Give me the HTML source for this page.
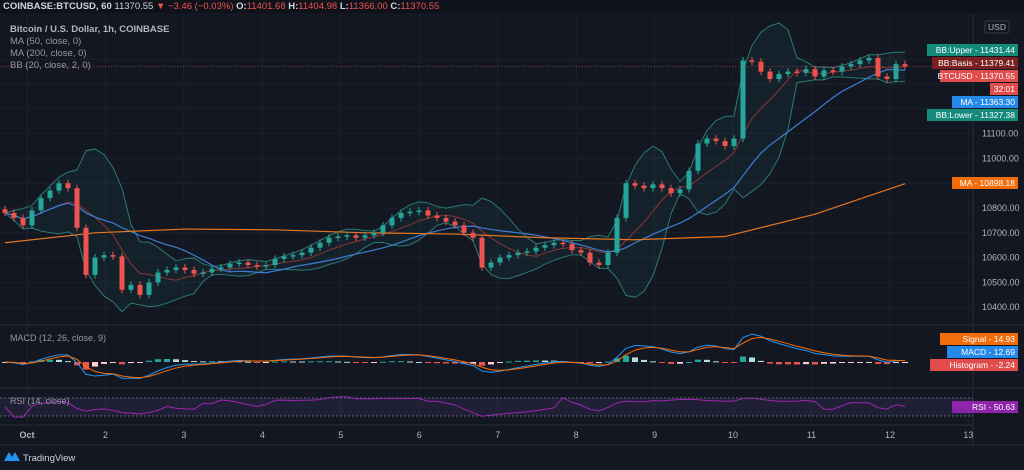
<!DOCTYPE html>
<html><head><meta charset="utf-8">
<style>
html,body{margin:0;padding:0;background:#131722;width:1024px;height:470px;overflow:hidden;font-family:"Liberation Sans",sans-serif}
svg{display:block}
</style></head>
<body>
<svg id="chart" width="1024" height="470" xmlns="http://www.w3.org/2000/svg">
<rect x="0" y="0" width="1024" height="470" fill="#131722"/>
<rect x="0" y="0" width="1024" height="13" fill="#0f121a"/>
<g id="grid"></g>
<g id="main"></g>
<g id="macd"></g>
<g id="rsi"></g>
<g id="axes"></g>
<text x="3" y="9" font-size="9.5" fill="#d1d4dc"><tspan font-weight="bold">COINBASE:BTCUSD, 60</tspan> 11370.55 <tspan fill="#ef5350">▼ −3.46 (−0.03%)</tspan> <tspan font-weight="bold">O:</tspan><tspan fill="#ef5350">11401.68</tspan> <tspan font-weight="bold">H:</tspan><tspan fill="#ef5350">11404.98</tspan> <tspan font-weight="bold">L:</tspan><tspan fill="#ef5350">11366.00</tspan> <tspan font-weight="bold">C:</tspan><tspan fill="#ef5350">11370.55</tspan></text>
<text x="10" y="32" font-size="9.5" font-weight="bold" fill="#b2b5be">Bitcoin / U.S. Dollar, 1h, COINBASE</text>
<text x="10" y="44" font-size="9.5" fill="#9598a1">MA (50, close, 0)</text>
<text x="10" y="56" font-size="9.5" fill="#9598a1">MA (200, close, 0)</text>
<text x="10" y="68" font-size="9.5" fill="#9598a1">BB (20, close, 2, 0)</text>
<text x="10" y="341" font-size="9" fill="#9598a1">MACD (12, 26, close, 9)</text>
<text x="10" y="404" font-size="9" fill="#9598a1">RSI (14, close)</text>
<g>
<path d="M4 461 L9 452 L12 457 L15 452 L20 461 Z" fill="#2196f3"/>
<text x="23" y="461" font-size="9.5" fill="#d1d4dc">TradingView</text>
</g>
</svg>
<script>
const closes=[10780,10760,10730,10790,10840,10870,10900,10880,10720,10530,10600,10610,10605,10470,10490,10450,10500,10540,10550,10560,10550,10535,10540,10555,10560,10575,10580,10570,10565,10570,10595,10605,10610,10620,10640,10660,10680,10685,10690,10680,10690,10700,10730,10760,10780,10785,10790,10770,10760,10745,10730,10700,10680,10560,10580,10600,10610,10620,10625,10640,10650,10660,10655,10630,10620,10580,10570,10620,10760,10900,10890,10880,10895,10880,10860,10875,10950,11060,11080,11070,11050,11080,11395,11390,11350,11320,11340,11350,11345,11360,11330,11355,11350,11370,11380,11395,11405,11330,11320,11380,11371];
const ma200Idx=[0,10,20,30,40,50,60,70,80,90,100];
const ma200Vals=[10660,10700,10715,10712,10700,10695,10680,10672,10685,10775,10898];
const priceTicks=[10400,10500,10600,10700,10800,11000,11100];
const dayLabels=["Oct","2","3","4","5","6","7","8","9","10","11","12","13"];

const NS="http://www.w3.org/2000/svg";
function el(tag,attrs,parent){const e=document.createElementNS(NS,tag);for(const k in attrs)e.setAttribute(k,attrs[k]);(parent||document.getElementById('chart')).appendChild(e);return e;}
const xS=i=>5+i*9;
const yP=p=>208-(p-10800)*0.248;
const dayX=d=>27+d*78.45;
const main=document.getElementById('main'),grid=document.getElementById('grid'),axes=document.getElementById('axes');

dayLabels.forEach((l,d)=>{const g=el('line',{x1:dayX(d),x2:dayX(d),y1:14,y2:425,stroke:'#1c202b','stroke-width':1},grid);});
priceTicks.concat([10900,11200,11300,11400]).forEach(p=>{const g=el('line',{x1:0,x2:972,y1:yP(p),y2:yP(p),stroke:'#1c202b'},grid);});
[325,388].forEach(y=>{const s=el('line',{x1:0,x2:1024,y1:y,y2:y,stroke:'#2a2e39'},grid);});
const va=el('line',{x1:973,x2:973,y1:14,y2:445,stroke:'#2a2e39'},grid);
const ha=el('line',{x1:0,x2:1024,y1:445,y2:445,stroke:'#2a2e39'},grid);
const ha2=el('line',{x1:0,x2:973,y1:425,y2:425,stroke:'#2a2e39'},grid);

function sma(a,n){return a.map((v,i)=>{const s=a.slice(Math.max(0,i-n+1),i+1);return s.reduce((x,y)=>x+y,0)/s.length;});}
function sd(a,n){return a.map((v,i)=>{const s=a.slice(Math.max(0,i-n+1),i+1);const m=s.reduce((x,y)=>x+y,0)/s.length;return Math.sqrt(s.reduce((x,y)=>x+(y-m)*(y-m),0)/s.length);});}
const basis=sma(closes,7),dev=sd(closes,7),ma50=sma(closes,17);
const up=basis.map((b,i)=>b+2*dev[i]),lo=basis.map((b,i)=>b-2*dev[i]);
const pts=(arr,f)=>arr.map((v,i)=>xS(i)+','+f(v)).join(' ');
const fill=el('polygon',{points:pts(up,yP)+' '+lo.map((v,i)=>xS(i)+','+yP(v)).reverse().join(' '),fill:'rgba(38,166,154,0.07)'},main);

const bu=el('polyline',{points:pts(up,yP),fill:'none',stroke:'#2b7a72','stroke-width':1},main);
const bl=el('polyline',{points:pts(lo,yP),fill:'none',stroke:'#2b7a72','stroke-width':1},main);
const bb=el('polyline',{points:pts(basis,yP),fill:'none',stroke:'#8e3535','stroke-width':1},main);
const m50=el('polyline',{points:pts(ma50,yP),fill:'none',stroke:'#3d7ed6','stroke-width':1.2},main);
const m200=el('polyline',{points:ma200Idx.map((ix,k)=>xS(ix)+','+yP(ma200Vals[k])).join(' '),fill:'none',stroke:'#e8761e','stroke-width':1.2},main);

closes.forEach((c,i)=>{const o=i?closes[i-1]:c+15;const upC=c>=o;const col=upC?'#26a69a':'#ef5350';
 const hi=Math.max(o,c)+14,lw=Math.min(o,c)-14;
 const w=el('line',{x1:xS(i),x2:xS(i),y1:yP(hi),y2:yP(lw),stroke:col,'stroke-width':1},main);
 const top=yP(Math.max(o,c)),h=Math.max(1.5,yP(Math.min(o,c))-top);
 const b=el('rect',{x:xS(i)-2.5,y:top,width:5,height:h,fill:col},main);});
const last=closes[closes.length-1];
const pl=el('line',{x1:0,x2:973,y1:yP(last),y2:yP(last),stroke:'#ef5350','stroke-width':0.7,'stroke-dasharray':'1,2',opacity:0.7},main);

function ema(a,n){const k=2/(n+1);let r=[];a.forEach((v,i)=>r.push(i?v*k+r[i-1]*(1-k):v));return r;}
const e1=ema(closes,4),e2=ema(closes,9);const macd=e1.map((v,i)=>v-e2[i]);const sig=ema(macd,3);const hist=macd.map((v,i)=>v-sig[i]);
const mx=Math.max(...macd.map(Math.abs),...sig.map(Math.abs));const yM=v=>362-v/mx*28;
const mg=document.getElementById('macd');
hist.forEach((h,i)=>{const col=h>=0?(i&&h>hist[i-1]?'#26a69a':'#b2dfdb'):(i&&h<hist[i-1]?'#ef5350':'#ffcdd2');
 const r=el('rect',{x:xS(i)-3,y:Math.min(362,yM(h)),width:6,height:Math.max(1,Math.abs(yM(h)-362)),fill:col},mg);});
const ml=el('polyline',{points:pts(macd,yM),fill:'none',stroke:'#2196f3','stroke-width':1},mg);
const sl=el('polyline',{points:pts(sig,yM),fill:'none',stroke:'#ff6d00','stroke-width':1},mg);

const rsi=closes.map((c,i)=>{let g=0,l=0;for(let j=Math.max(1,i-8);j<=i;j++){const d=closes[j]-closes[j-1];if(d>0)g+=d;else l-=d;}if(g+l===0)return 50;return 50+(100*g/(g+l)-50)*0.45;});
const yR=r=>398+(70-r)*18/40;const rg=document.getElementById('rsi');
const rb=el('rect',{x:0,y:398,width:973,height:18,fill:'rgba(126,87,194,0.12)'},rg);
[398,416].forEach(y=>{const d=el('line',{x1:0,x2:973,y1:y,y2:y,stroke:'#787b86','stroke-dasharray':'2,2','stroke-width':0.8},rg);});
const rl=el('polyline',{points:pts(rsi,yR),fill:'none',stroke:'#9c27b0','stroke-width':1},rg);

priceTicks.forEach(p=>{const t=el('text',{x:982,y:yP(p)+3,'font-size':9,fill:'#b2b5be'},axes);t.textContent=p.toFixed(2);});
dayLabels.forEach((l,d)=>{const t=el('text',{x:dayX(d),y:438,'font-size':9,fill:'#b2b5be','text-anchor':'middle','font-weight':d?'normal':'bold'},axes);t.textContent=l;});
const usd=el('rect',{x:985,y:21,width:24,height:12,fill:'#131722',stroke:'#363a45',rx:2},axes);
const ut=el('text',{x:997,y:30,'font-size':8.5,fill:'#b2b5be','text-anchor':'middle'},axes);ut.textContent='USD';
const tags=[['BB:Upper - 11431.44',927,44,'#138a7a'],['BB:Basis - 11379.41',932,57,'#7b2020'],['BTCUSD - 11370.55',940,70,'#e04b4b'],['32:01',990,83,'#e04b4b'],['MA - 11363.30',952,96,'#2489e8'],['BB:Lower - 11327.38',927,109,'#138a7a'],['MA - 10898.18',952,177,'#f06d0a'],['Signal - 14.93',940,333,'#f06d0a'],['MACD - 12.69',947,346,'#2489e8'],['Histogram - -2.24',930,359,'#e04b4b'],['RSI - 50.63',952,401,'#8e24aa']];
tags.forEach(([txt,x,y,c])=>{const r=el('rect',{x:x,y:y,width:1018-x,height:12,fill:c},axes);
 const t=el('text',{x:1015,y:y+9,'font-size':8.5,fill:'#ffffff','text-anchor':'end'},axes);t.textContent=txt;});
</script>
</body></html>
